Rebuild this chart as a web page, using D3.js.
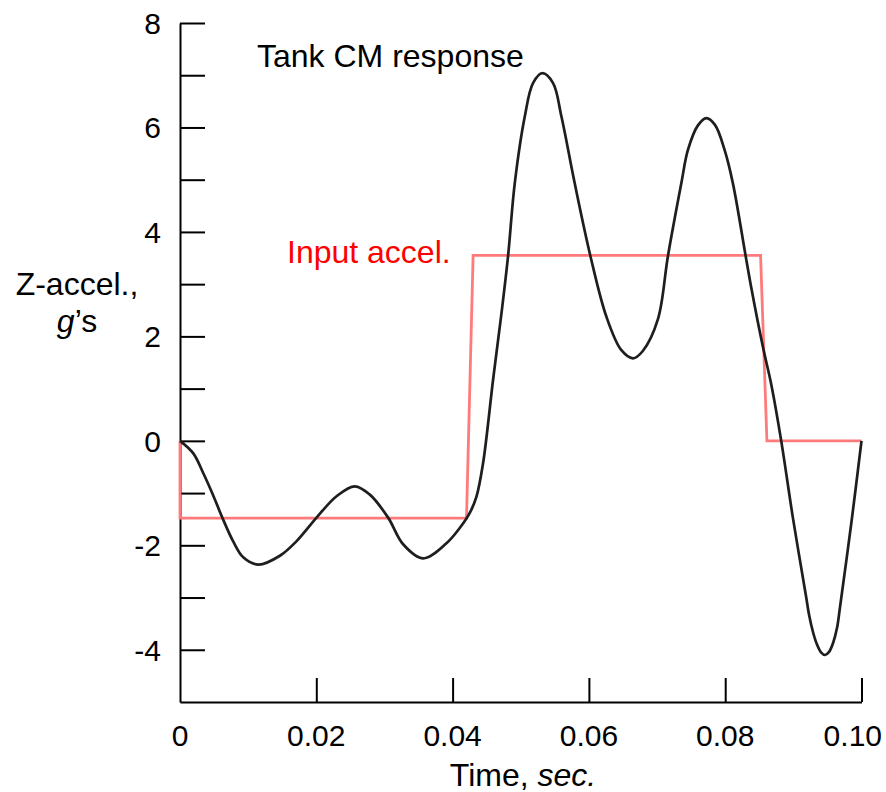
<!DOCTYPE html>
<html>
<head>
<meta charset="utf-8">
<script src="https://cdn.jsdelivr.net/npm/d3@7/dist/d3.min.js"></script>
<style>
  html, body { margin: 0; padding: 0; background: #fff; }
  svg { display: block; font-family: "Liberation Sans", Arial, Helvetica, sans-serif; }
</style>
</head>
<body>
<svg id="chart" width="886" height="792"></svg>
<script>
// Tank centre-of-mass response (g's) versus time (s)
const responseTime = [
  0, 0.00195, 0.00342, 0.00489, 0.00611, 0.00782, 0.00928, 0.01148, 0.01466, 0.01711,
  0.02004, 0.02297, 0.02566, 0.02786, 0.03054, 0.03274, 0.03568, 0.03910, 0.04110, 0.04252,
  0.04350, 0.04447, 0.04594, 0.04717, 0.04814, 0.04912, 0.05059, 0.05180, 0.05318, 0.05474,
  0.05597, 0.05792, 0.06022, 0.06256, 0.06474, 0.06647, 0.06791, 0.07013, 0.07160, 0.07356,
  0.07453, 0.07600, 0.07723, 0.07850, 0.07991, 0.08113, 0.08300, 0.08380, 0.08553, 0.08676,
  0.08822, 0.08993, 0.09188, 0.09229, 0.09288, 0.09347, 0.09406, 0.09465, 0.09524, 0.09583,
  0.09641, 0.09685, 0.09857, 0.10000
];
const responseAccel = [
  0, -0.24, -0.62, -1.05, -1.44, -1.93, -2.23, -2.37, -2.20, -1.92,
  -1.47, -1.06, -0.87, -1.03, -1.47, -1.98, -2.25, -1.96, -1.66, -1.38,
  -1.07, -0.43, 1.17, 2.44, 3.54, 4.93, 6.21, 6.85, 7.04, 6.85,
  6.21, 4.93, 3.54, 2.38, 1.74, 1.58, 1.72, 2.33, 3.54, 4.93,
  5.57, 6.04, 6.18, 6.05, 5.57, 4.93, 3.54, 2.95, 1.80, 1.08,
  0, -1.47, -2.99, -3.32, -3.66, -3.90, -4.05, -4.10, -4.04, -3.87,
  -3.58, -3.18, -1.51, 0
];

// Input acceleration pulse
const inputTime = [0, 0, 0.04204, 0.04301, 0.08519, 0.08612, 0.1];
const inputAccel = [0, -1.48, -1.48, 3.55, 3.55, 0, 0];

// Axis ticks
const xTicks = [0, 0.02, 0.04, 0.06, 0.08, 0.10];
const xTickLabels = ["0", "0.02", "0.04", "0.06", "0.08", "0.10"];
const yTicks = [-4, -3, -2, -1, 0, 1, 2, 3, 4, 5, 6, 7, 8];
const yTickLabels = [-4, -2, 0, 2, 4, 6, 8];

const svg = d3.select("#chart");

const x = d3.scaleLinear().domain([0, 0.1]).range([180, 861.5]);
const y = d3.scaleLinear().domain([-5, 8]).range([702, 23]);

// Y axis: line with inward ticks
const yAxis = d3.axisRight(y).tickValues(yTicks).tickSizeInner(25).tickSizeOuter(0).tickFormat("");
const gy = svg.append("g").attr("transform", `translate(${x(0)},0)`).call(yAxis);
gy.select(".domain").attr("stroke", "#000").attr("stroke-width", 2);
gy.selectAll(".tick line").attr("stroke", "#000").attr("stroke-width", 2);

// X axis: line with inward ticks
const xAxis = d3.axisTop(x).tickValues(xTicks).tickSizeInner(24).tickSizeOuter(0).tickFormat("");
const gx = svg.append("g").attr("transform", `translate(0,${y(-5)})`).call(xAxis);
gx.select(".domain").attr("stroke", "#000").attr("stroke-width", 2);
gx.selectAll(".tick line").attr("stroke", "#000").attr("stroke-width", 2);
// the corner tick at t = 0 coincides with the y axis
gx.selectAll(".tick").filter(d => d === 0).select("line").remove();

// Tick labels
svg.append("g").selectAll("text").data(yTickLabels).join("text")
  .attr("x", 161).attr("y", d => y(d)).attr("dy", "0.36em")
  .attr("text-anchor", "end").attr("font-size", 30).attr("fill", "#000")
  .text(d => String(d));

const lastX = xTicks[xTicks.length - 1];
svg.append("g").selectAll("text").data(xTicks).join("text")
  .attr("x", d => d === lastX ? 882 : x(d)).attr("y", 746)
  .attr("text-anchor", d => d === lastX ? "end" : "middle")
  .attr("font-size", 30).attr("fill", "#000")
  .text((d, i) => xTickLabels[i]);

// Axis titles
svg.append("text").attr("x", 523).attr("y", 786).attr("text-anchor", "middle")
  .attr("font-size", 32).attr("fill", "#000")
  .call(t => {
    t.append("tspan").text("Time, ");
    t.append("tspan").attr("font-style", "italic").text("sec.");
  });

svg.append("text").attr("x", 77).attr("y", 295).attr("text-anchor", "middle")
  .attr("font-size", 32).attr("fill", "#000").text("Z-accel.,");
svg.append("text").attr("x", 77).attr("y", 332).attr("text-anchor", "middle")
  .attr("font-size", 32).attr("fill", "#000")
  .call(t => {
    t.append("tspan").attr("font-style", "italic").text("g");
    t.append("tspan").text("\u2019s");
  });

// Input pulse
const inputLine = d3.line().x(d => x(d[0])).y(d => y(d[1]));
svg.append("path")
  .datum(inputTime.map((t, i) => [t, inputAccel[i]]))
  .attr("d", inputLine)
  .attr("fill", "none").attr("stroke", "#ff7b7b").attr("stroke-width", 2.8)
  .attr("stroke-linejoin", "miter");

// Response curve
const respLine = d3.line().x(d => x(d[0])).y(d => y(d[1])).curve(d3.curveCatmullRom.alpha(0.5));
svg.append("path")
  .datum(responseTime.map((t, i) => [t, responseAccel[i]]))
  .attr("d", respLine)
  .attr("fill", "none").attr("stroke", "#1e1e1e").attr("stroke-width", 2.7)
  .attr("stroke-linejoin", "round");

// Annotations
svg.append("text").attr("x", 257).attr("y", 67).attr("font-size", 32).attr("fill", "#000")
  .text("Tank CM response");
svg.append("text").attr("x", 287).attr("y", 263).attr("font-size", 32).attr("fill", "#ff0000")
  .text("Input accel.");
</script>
</body>
</html>
